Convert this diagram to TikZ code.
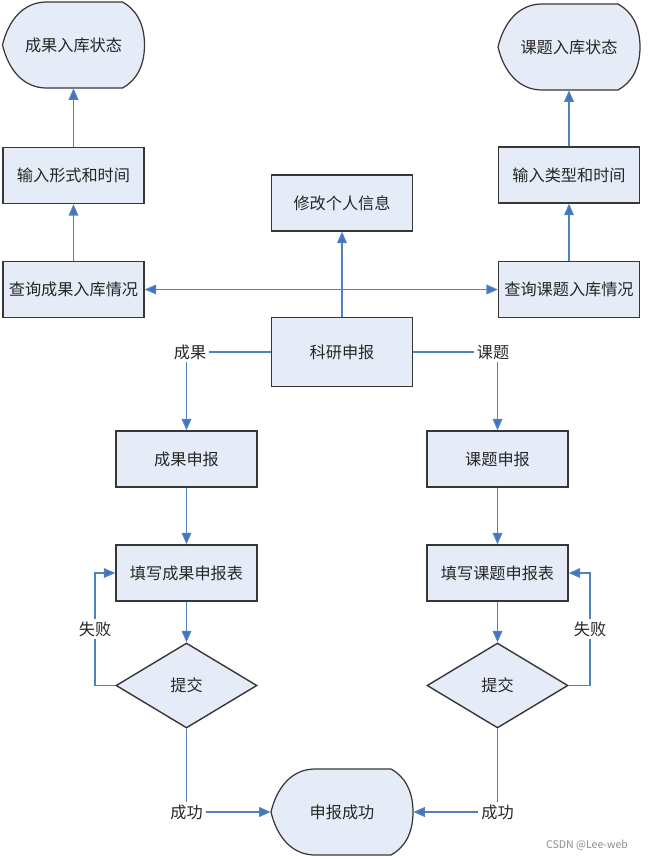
\documentclass[tikz,border=0pt]{standalone}
\usepackage{fontspec}
\usepackage{tikz}
\usepackage{xcolor}
\usetikzlibrary{shapes,arrows.meta,positioning,calc,backgrounds}

\newfontfamily\cjk{Noto Sans CJK SC}
\definecolor{boxfill}{RGB}{230,236,247}
\definecolor{linkblue}{RGB}{79,129,189}
\definecolor{tipblue}{RGB}{68,114,196}
\definecolor{edgegray}{RGB}{55,55,55}

\newcommand{\dispoutline}[1]{%
  \begin{scope}[on background layer, shift={(#1.center)}]
    \filldraw[fill=boxfill, draw=edgegray, line width=0.7pt]
      (-27,-43) -- (49,-43) .. controls (62,-36) and (71,-22) .. (71,0)
      .. controls (71,22) and (62,36) .. (49,43) -- (-27,43)
      .. controls (-50,43) and (-65,25) .. (-71,0)
      .. controls (-65,-25) and (-50,-43) .. (-27,-43) -- cycle;
  \end{scope}}

\begin{document}
\begin{tikzpicture}[
        x=0.02cm, y=-0.02cm,
        every node/.style={font=\cjk\fontsize{9.2}{11}\selectfont, text=black!85},
        box/.style={rectangle, draw=edgegray, fill=boxfill, line width=0.8pt, minimum width=2.82cm, minimum height=1.12cm},
        choice/.style={diamond, draw=edgegray, fill=boxfill, line width=0.8pt, minimum width=2.82cm, minimum height=1.7cm, inner sep=0pt},
        disp/.style={rectangle, minimum width=2.84cm, minimum height=1.72cm},
        lbl/.style={inner sep=1.5pt},
        lnk/.style={draw=linkblue, line width=0.75pt},
        arr/.style={lnk, -{Triangle[length=6.5pt,width=5.5pt,fill=tipblue]}},
        dbl/.style={lnk, {Triangle[length=6.5pt,width=5.5pt,fill=tipblue]}-{Triangle[length=6.5pt,width=5.5pt,fill=tipblue]}}
      ]
        \useasboundingbox (0,0) rectangle (655,859);

        \node[disp] (cgzt) at (73.5,45) {成果入库状态};
        \node[box] (srxs) at (73.5,175.5) {输入形式和时间};
        \node[box] (cxcg) at (73.5,289.5) {查询成果入库情况};
        \node[box] (xggr) at (342,203) {修改个人信息};
        \node[disp] (ktzt) at (569,47) {课题入库状态};
        \node[box] (srlx) at (569,175) {输入类型和时间};
        \node[box] (cxkt) at (569,289.5) {查询课题入库情况};
        \node[box, minimum height=1.38cm] (kysb) at (342,352) {科研申报};

        \node[lbl] (cg) at (190,352) {成果};
        \node[lbl] (kt) at (493,352) {课题};
        \node[box] (cgsb) at (186.5,459) {成果申报};
        \node[box] (ktsb) at (497.5,459) {课题申报};
        \node[box] (txcg) at (186.5,573) {填写成果申报表};
        \node[box] (txkt) at (497.5,573) {填写课题申报表};
        \node[choice] (tj1) at (186.5,685.5) {提交};
        \node[choice] (tj2) at (497.5,685.5) {提交};
        \node[lbl] (sb1) at (95,629) {失败};
        \node[lbl] (sb2) at (590,629) {失败};
        \node[lbl] (cg1) at (186.5,812) {成功};
        \node[lbl] (cg2) at (497.5,812) {成功};
        \node[disp] (sbcg) at (342,812) {申报成功};
        \node[font=\cjk\fontsize{6}{7}\selectfont, text=black!45] (mark) at (587,845) {CSDN @Lee-web};

        \dispoutline{cgzt}
        \dispoutline{ktzt}
        \dispoutline{sbcg}

        \draw[arr] (cxcg) -- (srxs);
        \draw[arr] (srxs) -- (cgzt);
        \draw[arr] (cxkt) -- (srlx);
        \draw[arr] (srlx) -- (ktzt);
        \draw[arr] (kysb) -- (xggr);
        \draw[dbl] (cxcg) -- (cxkt);

        \draw[lnk] (kysb.west) -- (cg);
        \draw[arr] (cg.south -| cgsb) -- (cgsb);
        \draw[lnk] (kysb.east) -- (kt);
        \draw[arr] (kt.south -| ktsb) -- (ktsb);

        \draw[arr] (cgsb) -- (txcg);
        \draw[arr] (ktsb) -- (txkt);
        \draw[arr] (txcg) -- (tj1);
        \draw[arr] (txkt) -- (tj2);

        \draw[lnk] (tj1.west) -| (sb1.south);
        \draw[arr] (sb1.north) |- (txcg.west);
        \draw[lnk] (tj2.east) -| (sb2.south);
        \draw[arr] (sb2.north) |- (txkt.east);

        \draw[lnk] (tj1.south) -- (cg1.north);
        \draw[arr] (cg1) -- (sbcg);
        \draw[lnk] (tj2.south) -- (cg2.north);
        \draw[arr] (cg2) -- (sbcg);

      \end{tikzpicture}
\end{document}
